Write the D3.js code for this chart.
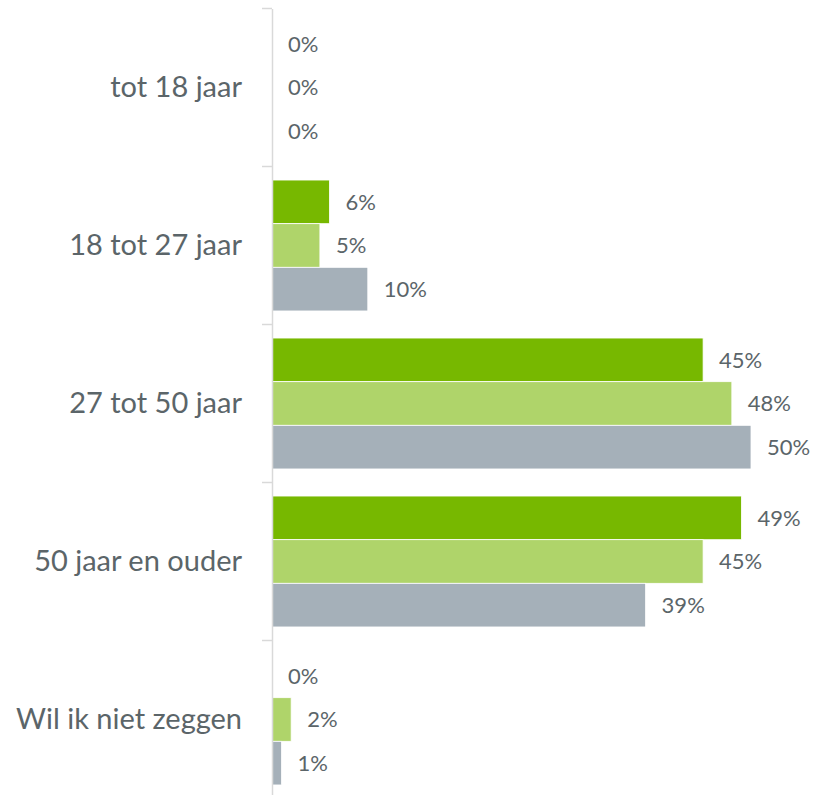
<!DOCTYPE html>
<html>
<head>
<meta charset="utf-8">
<script src="https://cdn.jsdelivr.net/npm/d3@7"></script>
<style>
  html, body { margin: 0; padding: 0; background: #fff; }
  svg { display: block; }
</style>
</head>
<body>
<svg id="chart" width="818" height="795"></svg>
<script>
const categories = ["tot 18 jaar", "18 tot 27 jaar", "27 tot 50 jaar", "50 jaar en ouder", "Wil ik niet zeggen"];
const seriesNames = ["Serie 1", "Serie 2", "Serie 3"];
const series1 = [0, 6, 45, 49, 0];
const series2 = [0, 5, 48, 45, 2];
const series3 = [0, 10, 50, 39, 1];
const seriesColors = ["#77b800", "#afd46a", "#a5b0b9"];

const allSeries = [series1, series2, series3];

const svg = d3.select("#chart");
const margin = { left: 272, top: 8.5, right: 68 };
const bandStep = 158;
const innerH = bandStep * categories.length;

const x = d3.scaleLinear().domain([0, 50]).range([margin.left, margin.left + 479]);
const y = d3.scaleBand().domain(categories).range([margin.top, margin.top + innerH]).paddingInner(0).paddingOuter(0);
const ySub = d3.scaleBand().domain(seriesNames).range([0, y.bandwidth()]).paddingOuter(0.31).paddingInner(0);

const textColor = "#5b6569";
const font = "Lato, 'Open Sans', sans-serif";

// bars
categories.forEach((cat, ci) => {
  const g = svg.append("g").attr("transform", `translate(0,${y(cat)})`);
  allSeries.forEach((vals, si) => {
    const v = vals[ci];
    const yy = ySub(seriesNames[si]);
    if (v > 0) {
      g.append("rect")
        .attr("x", x(0))
        .attr("y", yy)
        .attr("width", x(v) - x(0))
        .attr("height", ySub.bandwidth())
        .attr("fill", seriesColors[si])
        .attr("stroke", "#fff")
        .attr("stroke-width", 0.8);
    }
    g.append("text")
      .attr("x", x(v) + 16)
      .attr("y", yy + ySub.bandwidth() / 2)
      .attr("dy", "0.35em")
      .attr("fill", textColor)
      .attr("font-family", font)
      .attr("font-size", 22)
      .text(v + "%");
  });
});

// axis
const axis = d3.axisLeft(y).tickSize(0).tickPadding(30);
const ag = svg.append("g").attr("transform", `translate(${margin.left},0)`).call(axis);
ag.select(".domain").attr("stroke", "#d9d9d9").attr("stroke-width", 1.5);
ag.selectAll(".tick text")
  .attr("fill", textColor)
  .attr("font-family", font)
  .attr("font-size", 29);
// band boundary ticks
const bounds = d3.range(categories.length + 1).map(i => margin.top + i * bandStep);
ag.selectAll("line.bound").data(bounds).enter().append("line")
  .attr("class", "bound")
  .attr("x1", -10).attr("x2", 0)
  .attr("y1", d => d).attr("y2", d => d)
  .attr("stroke", "#d9d9d9").attr("stroke-width", 1.5);
</script>
</body>
</html>
